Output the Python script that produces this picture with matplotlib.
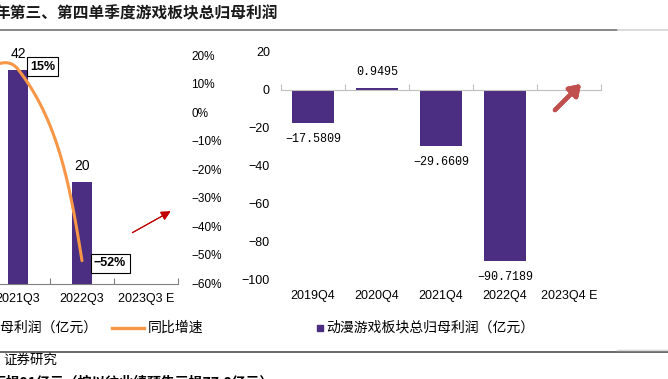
import numpy as np
import matplotlib
matplotlib.use("Agg")
import matplotlib.pyplot as plt
from matplotlib.lines import Line2D
from matplotlib.ticker import FuncFormatter

plt.rcParams["font.family"] = ["Liberation Sans", "Noto Sans CJK SC", "DejaVu Sans"]
CJK = ["Noto Sans CJK SC", "DejaVu Sans"]

# Q3 panel (left, partly cut off in the source screenshot)
q3_labels = ["2019Q3", "2020Q3", "2021Q3", "2022Q3", "2023Q3 E"]
q3_profit = [34.8, 36.5, 42, 20, np.nan]        # 亿元
q3_growth = [np.nan, 5, 15, -52, np.nan]        # %
q3_boxed = [False, False, True, True, False]

# Q4 panel (right)
q4_labels = ["2019Q4", "2020Q4", "2021Q4", "2022Q4", "2023Q4 E"]
q4_profit = [-17.5809, 0.9495, -29.6609, -90.7189, np.nan]

title = "年第三、第四单季度游戏板块总归母利润"
legend_bar = "动漫游戏板块总归母利润（亿元）"
legend_line = "同比增速"
source = "证券研究"
footnote = "亏损91亿元（按以往业绩预告亏损77.8亿元）"

PURPLE = "#4B2D82"
ORANGE = "#F79646"
W, H = 668, 379


def fx(px):
    return px / W


def fy(py):
    return 1 - py / H


def minus(s):
    return s.replace("-", "\u2212")


def excel_smooth(ax, xs, ys, n=60):
    # bezier smoothing done in screen space, like office charts do
    pts = ax.transData.transform(np.column_stack([xs, ys]))
    k = len(pts)
    cin = [None] * k
    cout = [None] * k
    for i in range(1, k - 1):
        d = pts[i + 1] - pts[i - 1]
        u = d / np.hypot(*d)
        cin[i] = pts[i] - u * np.hypot(*(pts[i] - pts[i - 1])) / 3
        cout[i] = pts[i] + u * np.hypot(*(pts[i + 1] - pts[i])) / 3
    cout[0] = pts[0] + (cin[1] - pts[0]) / 2
    cin[-1] = pts[-1] + (cout[-2] - pts[-1]) / 2
    t = np.linspace(0, 1, n)[:, None]
    segs = []
    for i in range(k - 1):
        p0, c1, c2, p1 = pts[i], cout[i], cin[i + 1], pts[i + 1]
        segs.append((1 - t) ** 3 * p0 + 3 * (1 - t) ** 2 * t * c1
                    + 3 * (1 - t) * t ** 2 * c2 + t ** 3 * p1)
    return ax.transData.inverted().transform(np.vstack(segs))


fig = plt.figure(figsize=(W / 100, H / 100), dpi=100)

# ---- left panel ----
ax_l = fig.add_axes([fx(-142), fy(283.5), 320 / W, 228.5 / H])
ax_g = ax_l.twinx()

x_l = np.arange(len(q3_labels))
prof = np.array(q3_profit, dtype=float)
ok = np.isfinite(prof)
ax_l.bar(x_l[ok], prof[ok], width=0.31, color=PURPLE, zorder=2)
ax_l.set_xlim(-0.5, len(q3_labels) - 0.5)
ax_l.set_ylim(0, 45)
for s in ["top", "right", "left"]:
    ax_l.spines[s].set_visible(False)
ax_l.spines["bottom"].set_color("#808080")
ax_l.spines["bottom"].set_linewidth(0.8)
ax_l.set_xticks(x_l, q3_labels)
ax_l.set_xticks(np.arange(-0.5, len(q3_labels), 1), minor=True)
ax_l.tick_params(axis="x", which="major", length=0, pad=7, labelsize=9)
ax_l.tick_params(axis="x", which="minor", direction="in", length=4,
                 color="#808080", width=0.8)
ax_l.tick_params(axis="y", left=False, labelleft=False)
for xi, v in zip(x_l[ok], prof[ok]):
    ax_l.annotate(f"{v:g}", (xi, v), xytext=(0, 11.5), textcoords="offset points",
                  ha="center", va="center", fontsize=10, annotation_clip=False)

ax_g.set_ylim(-60, 20)
ax_g.set_yticks(range(-60, 21, 10))
ax_g.yaxis.set_major_formatter(FuncFormatter(lambda v, p: minus(f"{v:.0f}%")))
ax_g.tick_params(axis="y", length=0, pad=9.4, labelsize=8.5)
for s in ax_g.spines.values():
    s.set_visible(False)

g = np.array(q3_growth, dtype=float)
okg = np.isfinite(g)
curve = excel_smooth(ax_g, x_l[okg], g[okg])
ax_g.plot(curve[:, 0], curve[:, 1], color=ORANGE, lw=2.2,
          solid_capstyle="round", zorder=3)
for xi, v, boxed in zip(x_l, g, q3_boxed):
    if boxed and np.isfinite(v):
        ax_g.annotate(minus(f"{v:.0f}%"), (xi, v),
                      xytext=(8.6, 1.8 if v > 0 else -1.8),
                      textcoords="offset points", ha="left", va="center",
                      fontsize=9, fontweight="bold", zorder=5,
                      bbox=dict(boxstyle="square,pad=0.27", fc="white",
                                ec="black", lw=0.8),
                      annotation_clip=False)

# ---- right panel ----
ax_r = fig.add_axes([fx(281), fy(279), 320 / W, 227 / H])
lab = ax_r.twiny()

x_r = np.arange(len(q4_labels))
q4 = np.array(q4_profit, dtype=float)
okr = np.isfinite(q4)
ax_r.bar(x_r[okr], q4[okr], width=0.67, color=PURPLE, zorder=2)
ax_r.set_xlim(-0.5, len(q4_labels) - 0.5)
ax_r.set_ylim(-100, 20)
for s in ["top", "right", "left"]:
    ax_r.spines[s].set_visible(False)
ax_r.spines["bottom"].set_position(("data", 0))
ax_r.spines["bottom"].set_color("#BFBFBF")
ax_r.spines["bottom"].set_linewidth(0.8)
ax_r.set_xticks(np.arange(-0.5, len(q4_labels), 1))
ax_r.tick_params(axis="x", direction="in", length=4, color="#BFBFBF",
                 width=0.8, labelbottom=False)
ax_r.set_yticks(range(-100, 21, 20))
ax_r.tick_params(axis="y", length=0, pad=8, labelsize=9)

lab.set_xlim(ax_r.get_xlim())
lab.set_xticks(x_r, q4_labels)
lab.xaxis.set_ticks_position("bottom")
lab.tick_params(axis="x", length=0, pad=8, labelsize=9,
                labeltop=False, labelbottom=True)
for s in lab.spines.values():
    s.set_visible(False)

for xi, v in zip(x_r[okr], q4[okr]):
    ax_r.annotate(minus(f"{v:.4f}"), (xi, v),
                  xytext=(0, 11.5 if v > 0 else -11.5), textcoords="offset points",
                  ha="center", va="center", fontsize=8.5,
                  family="Liberation Mono", annotation_clip=False)

# ---- arrows ----
fig.add_artist(plt.annotate("", xy=(fx(173), fy(210)), xytext=(fx(130), fy(234)),
                            xycoords="figure fraction", textcoords="figure fraction",
                            arrowprops=dict(arrowstyle="-|>", color="#C00000",
                                            lw=0.8, mutation_scale=14)))
fig.add_artist(plt.annotate("", xy=(fx(583), fy(82)), xytext=(fx(553), fy(112)),
                            xycoords="figure fraction", textcoords="figure fraction",
                            arrowprops=dict(arrowstyle="-|>,head_length=0.45,head_width=0.3",
                                            color="#C0504D", lw=3.2,
                                            mutation_scale=14)))

# ---- title, legends, rules, notes ----
fig.text(fx(-6), fy(13), title, family=CJK, fontsize=11.3, fontweight="bold",
         ha="left", va="center", color="#1A1A1A")
fig.add_artist(Line2D([0, fx(618)], [fy(30), fy(30)], color="#7F7F7F", lw=1.3))
fig.add_artist(Line2D([fx(618), 1], [fy(30), fy(30)], color="#D9D9D9", lw=1.3))

fig.text(fx(97), fy(328), legend_bar, family=CJK, fontsize=10,
         ha="right", va="center")
fig.add_artist(Line2D([fx(112), fx(144)], [fy(328), fy(328)], color=ORANGE, lw=2.4))
fig.text(fx(148), fy(328), legend_line, family=CJK, fontsize=10,
         ha="left", va="center")

fig.add_artist(Line2D([fx(319.5)], [fy(328)], marker="s", markersize=5,
                      color=PURPLE, linestyle="none"))
fig.text(fx(326), fy(328), legend_bar, family=CJK, fontsize=10,
         ha="left", va="center")

fig.add_artist(Line2D([0, 1], [fy(351.5), fy(351.5)], color="#404040", lw=1.1))
fig.add_artist(Line2D([fx(617), 1], [fy(350), fy(350)], color="#D9D9D9", lw=1))
fig.text(fx(3), fy(360), source, family=CJK, fontsize=9.7, ha="left", va="center")
fig.text(fx(-8), fy(382.5), footnote, family=CJK, fontsize=10, fontweight="bold",
         ha="left", va="center")

fig.savefig("out.png", dpi=100)
